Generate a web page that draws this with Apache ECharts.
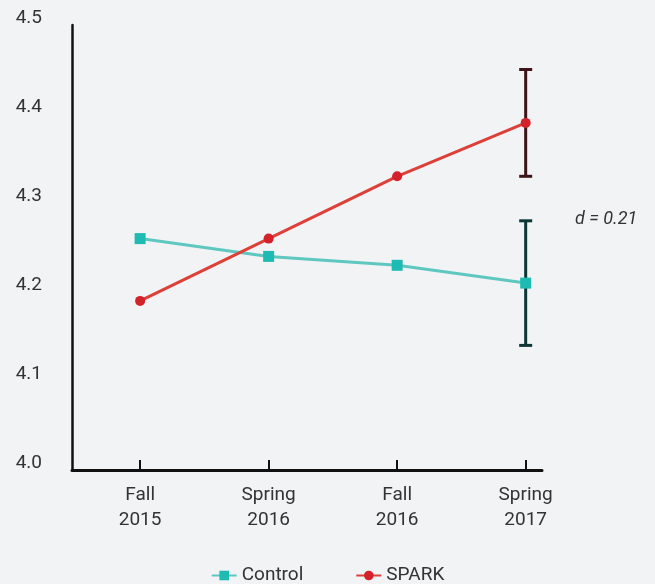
<!DOCTYPE html>
<html>
<head>
<meta charset="utf-8">
<script src="https://cdn.jsdelivr.net/npm/echarts@6/dist/echarts.min.js"></script>
<style>
html,body{margin:0;padding:0;background:#f2f3f5;}
#chart{width:655px;height:584px;}
</style>
</head>
<body>
<div id="chart"></div>
<script>
var categories = ['Fall\n2015', 'Spring\n2016', 'Fall\n2016', 'Spring\n2017'];
var controlValues = [4.26, 4.24, 4.23, 4.21];
var sparkValues = [4.19, 4.26, 4.33, 4.39];
var controlError = [4.14, 4.28];   // low, high at Spring 2017
var sparkError = [4.33, 4.45];
var yTicks = [4.0, 4.1, 4.2, 4.3, 4.4, 4.5];
var effectLabel = 'd = 0.21';

var idx = categories.map(function (c, i) { return i; });
function pairs(vals) { return vals.map(function (v, i) { return [i, v]; }); }

function errBar(color) {
  return function (params, api) {
    var x = api.value(0);
    var lo = api.coord([x, api.value(1)]);
    var hi = api.coord([x, api.value(2)]);
    var w = 6.5;
    var st = { stroke: color, lineWidth: 3 };
    return {
      type: 'group',
      children: [
        { type: 'line', shape: { x1: lo[0], y1: lo[1], x2: hi[0], y2: hi[1] }, style: st },
        { type: 'line', shape: { x1: lo[0] - w, y1: lo[1], x2: lo[0] + w, y2: lo[1] }, style: st },
        { type: 'line', shape: { x1: hi[0] - w, y1: hi[1], x2: hi[0] + w, y2: hi[1] }, style: st }
      ]
    };
  };
}

var chart = echarts.init(document.getElementById('chart'));
chart.setOption({
  backgroundColor: '#f2f3f5',
  animation: false,
  textStyle: { fontFamily: 'Roboto' },
  grid: { left: 72, right: 113, top: 25, bottom: 114, containLabel: false },
  legend: {
    left: 'center',
    top: 561,
    itemWidth: 25,
    itemHeight: 12,
    itemGap: 52,
    textStyle: { fontSize: 19, color: '#333', fontFamily: 'Roboto' },
    data: ['Control', 'SPARK']
  },
  xAxis: {
    type: 'value',
    min: -0.53,
    max: 3.127,
    splitLine: { show: false },
    axisLine: { show: true, onZero: false, lineStyle: { color: '#111', width: 3 } },
    axisTick: { show: true, inside: true, length: 10, customValues: idx, lineStyle: { color: '#111', width: 2 } },
    axisLabel: {
      customValues: idx,
      formatter: function (v) { return categories[Math.round(v)]; },
      fontSize: 19, lineHeight: 25, color: '#333', margin: 13
    }
  },
  yAxis: {
    type: 'value',
    min: 4.0,
    max: 4.5,
    interval: 0.1,
    splitLine: { show: false },
    axisLine: { show: true, onZero: false, lineStyle: { color: '#111', width: 2.5 } },
    axisTick: { show: false },
    axisLabel: {
      customValues: yTicks,
      formatter: function (v) { return v.toFixed(1); },
      fontSize: 19, color: '#333', margin: 30,
      verticalAlign: 'bottom', lineHeight: 14
    }
  },
  graphic: [{
    type: 'text',
    left: 575,
    top: 210,
    style: { text: effectLabel, fontSize: 18, fontStyle: 'italic', fill: '#333', fontFamily: 'Roboto' }
  }],
  series: [
    {
      type: 'custom', name: 'errSpark', z: 1,
      renderItem: errBar('#3d1518'),
      data: [[3, sparkError[0], sparkError[1]]]
    },
    {
      type: 'custom', name: 'errControl', z: 1,
      renderItem: errBar('#0d3636'),
      data: [[3, controlError[0], controlError[1]]]
    },
    {
      name: 'Control', type: 'line', z: 3,
      data: pairs(controlValues),
      symbol: 'rect', symbolSize: 11,
      lineStyle: { color: '#5ec8c0', width: 3 },
      itemStyle: { color: '#1ebbb3' }
    },
    {
      name: 'SPARK', type: 'line', z: 3,
      data: pairs(sparkValues),
      symbol: 'circle', symbolSize: 10,
      lineStyle: { color: '#dc4038', width: 3 },
      itemStyle: { color: '#d4222a' }
    }
  ]
});
</script>
</body>
</html>
